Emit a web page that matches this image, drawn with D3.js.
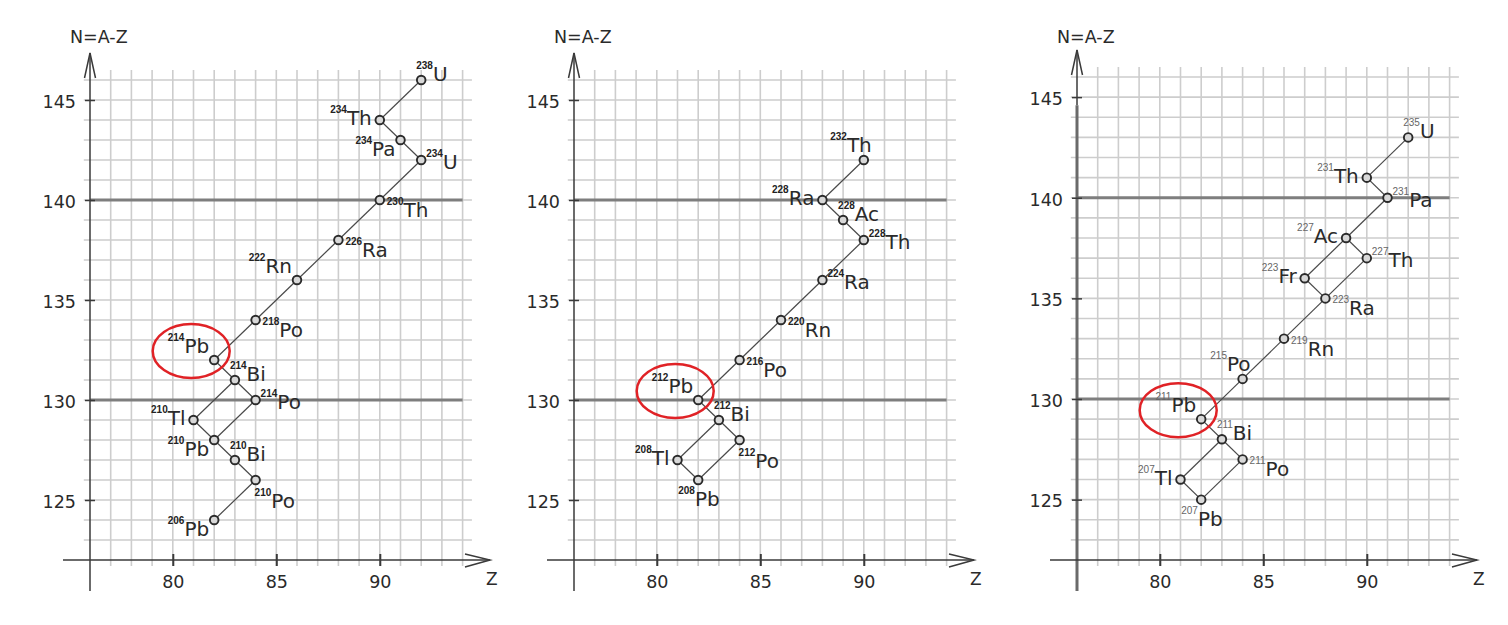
<!DOCTYPE html>
<html>
<head>
<meta charset="utf-8">
<script src="https://cdn.jsdelivr.net/npm/d3@7"></script>
<style>
body { margin: 0; background: #fff; }
text { font-family: "DejaVu Sans", sans-serif; fill: #2a2a2a; }
</style>
</head>
<body>
<svg width="1508" height="625"></svg>
<script>
var zTicks = [80, 85, 90];
var nTicks = [125, 130, 135, 140, 145];
var shellLines = [130, 140];

// uranium-238 series
var u238Nuclides = [
  {el: "U", A: 238, Z: 92}, {el: "Th", A: 234, Z: 90}, {el: "Pa", A: 234, Z: 91}, {el: "U", A: 234, Z: 92},
  {el: "Th", A: 230, Z: 90}, {el: "Ra", A: 226, Z: 88}, {el: "Rn", A: 222, Z: 86}, {el: "Po", A: 218, Z: 84},
  {el: "Pb", A: 214, Z: 82}, {el: "Bi", A: 214, Z: 83}, {el: "Po", A: 214, Z: 84}, {el: "Tl", A: 210, Z: 81},
  {el: "Pb", A: 210, Z: 82}, {el: "Bi", A: 210, Z: 83}, {el: "Po", A: 210, Z: 84}, {el: "Pb", A: 206, Z: 82}
];
var u238Decays = [
  ["U238", "Th234"], ["Th234", "Pa234"], ["Pa234", "U234"], ["U234", "Th230"], ["Th230", "Ra226"],
  ["Ra226", "Rn222"], ["Rn222", "Po218"], ["Po218", "Pb214"], ["Pb214", "Bi214"], ["Bi214", "Po214"],
  ["Bi214", "Tl210"], ["Po214", "Pb210"], ["Tl210", "Pb210"], ["Pb210", "Bi210"], ["Bi210", "Po210"],
  ["Po210", "Pb206"]
];
var u238Sides = ["ne", "w", "sw", "e", "se", "se", "nw", "se", "nw", "ne", "e", "w", "sw", "ne", "s", "sw"];

// thorium-232 series
var th232Nuclides = [
  {el: "Th", A: 232, Z: 90}, {el: "Ra", A: 228, Z: 88}, {el: "Ac", A: 228, Z: 89}, {el: "Th", A: 228, Z: 90},
  {el: "Ra", A: 224, Z: 88}, {el: "Rn", A: 220, Z: 86}, {el: "Po", A: 216, Z: 84}, {el: "Pb", A: 212, Z: 82},
  {el: "Bi", A: 212, Z: 83}, {el: "Tl", A: 208, Z: 81}, {el: "Po", A: 212, Z: 84}, {el: "Pb", A: 208, Z: 82}
];
var th232Decays = [
  ["Th232", "Ra228"], ["Ra228", "Ac228"], ["Ac228", "Th228"], ["Th228", "Ra224"], ["Ra224", "Rn220"],
  ["Rn220", "Po216"], ["Po216", "Pb212"], ["Pb212", "Bi212"], ["Bi212", "Tl208"], ["Bi212", "Po212"],
  ["Tl208", "Pb208"], ["Po212", "Pb208"]
];
var th232Sides = ["n", "w", "ne", "e", "e", "se", "se", "nw", "ne", "w", "s", "b"];

// uranium-235 series
var u235Nuclides = [
  {el: "U", A: 235, Z: 92}, {el: "Th", A: 231, Z: 90}, {el: "Pa", A: 231, Z: 91}, {el: "Ac", A: 227, Z: 89},
  {el: "Th", A: 227, Z: 90}, {el: "Fr", A: 223, Z: 87}, {el: "Ra", A: 223, Z: 88}, {el: "Rn", A: 219, Z: 86},
  {el: "Po", A: 215, Z: 84}, {el: "Pb", A: 211, Z: 82}, {el: "Bi", A: 211, Z: 83}, {el: "Tl", A: 207, Z: 81},
  {el: "Po", A: 211, Z: 84}, {el: "Pb", A: 207, Z: 82}
];
var u235Decays = [
  ["U235", "Th231"], ["Th231", "Pa231"], ["Pa231", "Ac227"], ["Ac227", "Th227"], ["Ac227", "Fr223"],
  ["Fr223", "Ra223"], ["Th227", "Ra223"], ["Ra223", "Rn219"], ["Rn219", "Po215"], ["Po215", "Pb211"],
  ["Pb211", "Bi211"], ["Bi211", "Tl207"], ["Bi211", "Po211"], ["Tl207", "Pb207"], ["Po211", "Pb207"]
];
var u235Sides = ["ne", "w", "e", "w", "e", "w", "se", "se", "n", "nw", "ne", "w", "se", "b"];

var marked = ["Pb214", "Pb212", "Pb211"];

// label placement relative to the point
var place = {
  ne: {anchor: "start", dx: -5, dy: 1},
  e:  {anchor: "start", dx: 5, dy: 9},
  se: {anchor: "start", dx: 7, dy: 17},
  s:  {anchor: "start", dx: -1, dy: 28},
  b:  {anchor: "start", dx: -20, dy: 26},
  n:  {anchor: "end", dx: 8, dy: -8},
  nw: {anchor: "end", dx: -5, dy: -7},
  w:  {anchor: "end", dx: -8, dy: 5},
  sw: {anchor: "end", dx: -5, dy: 16}
};

var panels = [
  {nuc: u238Nuclides, dec: u238Decays, sides: u238Sides, ax: 90, yr: [560, 80], supW: "bold", supC: "#222", axisW: 1.5},
  {nuc: th232Nuclides, dec: th232Decays, sides: th232Sides, ax: 574, yr: [560, 80], supW: "bold", supC: "#222", axisW: 1.5},
  {nuc: u235Nuclides, dec: u235Decays, sides: u235Sides, ax: 1077, yr: [560, 77], supW: "normal", supC: "#666", axisW: 3}
];

var svg = d3.select("svg");
var key = function(d) { return d.el + d.A; };

panels.forEach(function(p, i) {
  var x = d3.scaleLinear().domain([76, 94]).range([p.ax, p.ax + 18 * 20.7]);
  var y = d3.scaleLinear().domain([122, 146]).range(p.yr);
  var g = svg.append("g");

  // grid
  g.append("g").selectAll("line")
    .data(d3.range(77, 95))
    .enter().append("line")
      .attr("x1", function(d) { return x(d); }).attr("x2", function(d) { return x(d); })
      .attr("y1", y(146.5)).attr("y2", y(121.7))
      .attr("stroke", "#cdcdcd").attr("stroke-width", 1.6);
  g.append("g").selectAll("line")
    .data(d3.range(123, 147))
    .enter().append("line")
      .attr("x1", x(75.7)).attr("x2", x(94.45))
      .attr("y1", function(d) { return y(d); }).attr("y2", function(d) { return y(d); })
      .attr("stroke", "#cdcdcd").attr("stroke-width", 1.6);

  // closed shell lines
  g.append("g").selectAll("line")
    .data(shellLines)
    .enter().append("line")
      .attr("x1", x(76)).attr("x2", x(94))
      .attr("y1", function(d) { return y(d); }).attr("y2", function(d) { return y(d); })
      .attr("stroke", "#7e7e7e").attr("stroke-width", 3);

  // axes
  var ax = g.append("g").attr("stroke", "#3a3a3a").attr("stroke-width", 1.5).attr("fill", "none");
  ax.append("line").attr("x1", x(76)).attr("x2", x(76)).attr("y1", y(146) - 27).attr("y2", y(144.6));
  ax.append("line").attr("x1", x(76)).attr("x2", x(76)).attr("y1", y(144.6)).attr("y2", y(122) + 31)
    .attr("stroke", p.axisW > 2 ? "#6a6a6a" : "#3a3a3a").attr("stroke-width", p.axisW);
  ax.append("path").attr("d", "M" + (x(76) - 5.5) + "," + (y(146) - 2) + "L" + x(76) + "," + (y(146) - 27) + "L" + (x(76) + 5.5) + "," + (y(146) - 2));
  ax.append("line").attr("x1", x(76) - 27).attr("x2", x(76) + 400).attr("y1", y(122)).attr("y2", y(122));
  ax.append("path").attr("d", "M" + (x(76) + 375) + "," + (y(122) - 6) + "L" + (x(76) + 400) + "," + y(122) + "L" + (x(76) + 375) + "," + (y(122) + 7));

  var yAxis = g.append("g").attr("transform", "translate(" + x(76) + ",0)")
    .call(d3.axisLeft(y).tickValues(nTicks).tickSize(5).tickPadding(9));
  yAxis.select(".domain").remove();
  yAxis.selectAll(".tick line").attr("x2", 5).attr("x1", -5).attr("stroke", "#3a3a3a").attr("stroke-width", 1.5);
  yAxis.selectAll(".tick text").attr("font-size", 17.5).attr("font-family", "DejaVu Sans").attr("fill", "#2a2a2a").attr("dy", "0.42em");

  var xAxis = g.append("g").attr("transform", "translate(0," + y(122) + ")")
    .call(d3.axisBottom(x).tickValues(zTicks).tickSize(6).tickPadding(10));
  xAxis.select(".domain").remove();
  xAxis.selectAll(".tick line").attr("y1", -6).attr("y2", 6).attr("stroke", "#3a3a3a").attr("stroke-width", 2);
  xAxis.selectAll(".tick text").attr("font-size", 17.5).attr("font-family", "DejaVu Sans").attr("fill", "#2a2a2a");

  g.append("text").attr("x", x(76) - 20).attr("y", 43).attr("font-size", 17.5).text("N=A-Z");
  g.append("text").attr("x", x(76) + 396).attr("y", y(122) + 25).attr("font-size", 17).text("Z");

  // decay chain
  var byKey = {};
  p.nuc.forEach(function(d) { byKey[key(d)] = d; });

  g.append("g").selectAll("line")
    .data(p.dec)
    .enter().append("line")
      .attr("x1", function(d) { return x(byKey[d[0]].Z); })
      .attr("y1", function(d) { return y(byKey[d[0]].A - byKey[d[0]].Z); })
      .attr("x2", function(d) { return x(byKey[d[1]].Z); })
      .attr("y2", function(d) { return y(byKey[d[1]].A - byKey[d[1]].Z); })
      .attr("stroke", "#4a4a4a").attr("stroke-width", 1.2);

  // red mark around the lead isotope
  var m = byKey[marked[i]];
  g.append("ellipse")
    .attr("cx", x(m.Z) - 23).attr("cy", y(m.A - m.Z) - 9)
    .attr("rx", 38.5).attr("ry", 27)
    .attr("fill", "none").attr("stroke", "#e02226").attr("stroke-width", 2.5);

  g.append("g").selectAll("circle")
    .data(p.nuc)
    .enter().append("circle")
      .attr("cx", function(d) { return x(d.Z); })
      .attr("cy", function(d) { return y(d.A - d.Z); })
      .attr("r", 4.3)
      .attr("fill", "#d8d8d8").attr("stroke", "#2a2a2a").attr("stroke-width", 1.9);

  var labels = g.append("g").selectAll("text")
    .data(p.nuc)
    .enter().append("text")
      .attr("x", function(d, j) { return x(d.Z) + place[p.sides[j]].dx; })
      .attr("y", function(d, j) { return y(d.A - d.Z) + place[p.sides[j]].dy; })
      .attr("text-anchor", function(d, j) { return place[p.sides[j]].anchor; });
  labels.append("tspan")
    .attr("font-family", "Liberation Sans, Arial, sans-serif")
    .attr("font-size", 10).attr("font-weight", p.supW).attr("fill", p.supC)
    .attr("dy", -12)
    .text(function(d) { return d.A; });
  labels.append("tspan")
    .attr("font-size", 20).attr("dy", 12)
    .text(function(d) { return d.el; });
});
</script>
</body>
</html>
